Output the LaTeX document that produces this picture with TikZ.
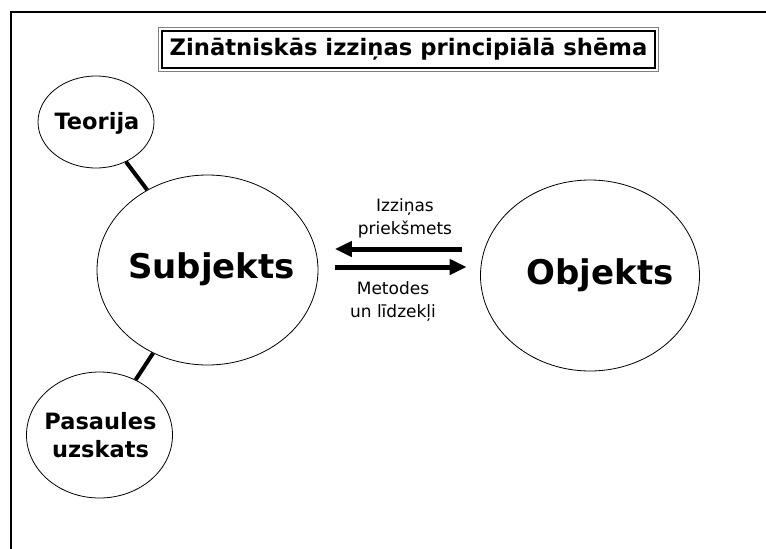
\documentclass[tikz,border=0pt]{standalone}
\usepackage{fontspec}
\setmainfont{DejaVu Sans}
\usetikzlibrary{shapes.geometric,arrows.meta}
\begin{document}
\begin{tikzpicture}[x=1pt,y=-1pt,
  bubble/.style={draw,ellipse,line width=0.8pt,inner sep=0pt},
  bigtxt/.style={font=\fontsize{34}{40}\selectfont\bfseries,inner sep=0pt},
  midtxt/.style={font=\fontsize{22.5}{28}\selectfont\bfseries,align=center,inner sep=0pt},
  smalltxt/.style={font=\fontsize{17}{23}\selectfont,align=center,inner sep=0pt},
  link/.style={line width=4pt},
  bigarrow/.style={line width=5pt,-{Triangle[length=17pt,width=15pt]}}]
\useasboundingbox (0,0) rectangle (766,549);
\fill[white] (0,0) rectangle (766,549);
% frame
\draw[line width=2pt] (10.5,549) -- (10.5,12) -- (766,12);
% title
\node[draw,line width=2pt,minimum width=493pt,minimum height=37pt,inner sep=0pt,
      font=\fontsize{22.7}{26}\selectfont\bfseries] (title) at (408.5,49.5)
      {Zinātniskās izziņas principiālā shēma};
\draw[gray,line width=1.2pt] ([shift={(-2.2,-2.2)}]title.north west) rectangle ([shift={(2.2,2.2)}]title.south east);
% ellipses
\node[bubble,minimum width=116pt,minimum height=92pt,
      label={[midtxt,xshift=1pt,yshift=-1pt]center:Teorija}] (teo) at (96,122) {};
\node[bubble,minimum width=221pt,minimum height=190pt,
      label={[bigtxt,xshift=4pt,yshift=1pt]center:Subjekts}] (subj) at (207.5,270) {};
\node[bubble,minimum width=146pt,minimum height=126pt,
      label={[midtxt,xshift=1pt]center:Pasaules\\uzskats}] (pas) at (99.5,435) {};
\node[bubble,minimum width=219pt,minimum height=191pt,
      label={[bigtxt,xshift=10pt]center:Objekts}] (obj) at (590,275.5) {};
% links
\draw[link] (teo) -- (subj);
\draw[link] (pas) -- (subj);
% arrows
\draw[bigarrow] ([shift={(-18.5,-26.5)}]obj.west) -- ([shift={(16.5,-21)}]subj.east);
\draw[bigarrow] ([shift={(16.5,-3)}]subj.east) -- ([shift={(-13.5,-8.5)}]obj.west);
% labels
\node[smalltxt] (lab1) at (405,218) {Izziņas\\priekšmets};
\node[smalltxt] (lab2) at (393,302) {Metodes\\un līdzekļi};
\end{tikzpicture}
\end{document}
